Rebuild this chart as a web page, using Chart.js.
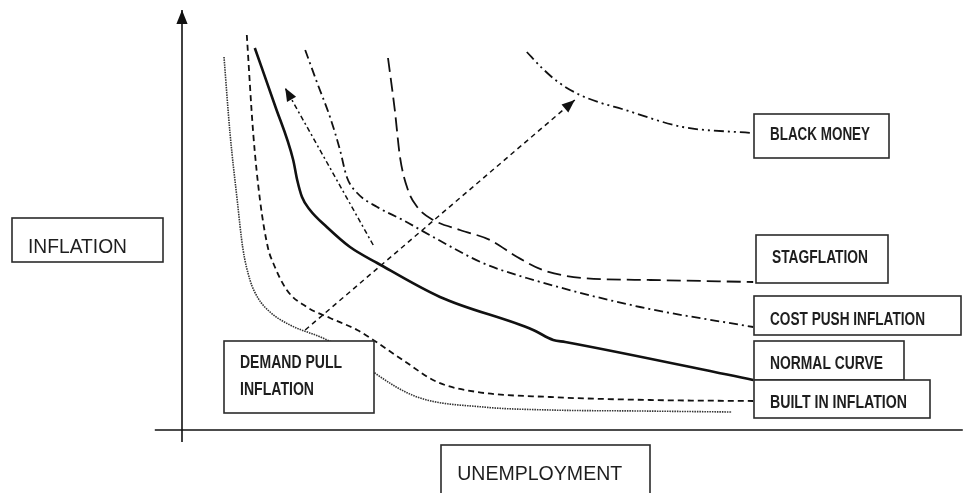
<!DOCTYPE html>
<html>
<head>
<meta charset="utf-8">
<script src="https://cdn.jsdelivr.net/npm/chart.js@4/dist/chart.umd.min.js"></script>
<style>
html, body { margin: 0; padding: 0; background: #fff; }
#chart { display: block; }
</style>
</head>
<body>
<canvas id="chart" width="966" height="493"></canvas>
<script>
// Curves: x = unemployment, y = inflation (arbitrary units, origin at the axes)
const demandPullCurve = [[5.25,93.75],[6,74.75],[6.9,58],[7.6,46],[8.5,38],[9.5,33.5],[11,30],[13.5,26.75],[17.6,23.5],[21,20],[24.1,14.75],[29.4,8.75],[37.6,6.25],[46,5.5],[57.25,5.25],[68.75,5]];
const builtInCurve = [[8.1,99.25],[8.9,74.75],[9.75,58],[10.75,46],[11.4,42.25],[13.1,35.5],[15.6,31.25],[18.5,28.5],[21.9,25.5],[23.9,23],[27.6,18],[31.9,12.5],[36.9,10],[46,8.75],[58.5,8],[71.4,7.75]];
const normalCurve = [[9.1,96],[11.6,81.75],[13.9,68],[14.4,63],[15,58.75],[16,55.5],[18.1,51.25],[21,46.25],[24.4,42.25],[32.25,33.75],[43.9,25.5],[46.4,23],[47.9,22.5],[71.4,13]];
const costPushCurve = [[15.4,95.5],[16.9,87.25],[18.5,78.75],[19.75,70.5],[20.6,63.75],[21.9,59.75],[24.4,56.25],[27.6,53],[31.4,48.75],[37.6,42.25],[43.1,38.5],[57.25,31.25],[71.4,26.25]];
const stagflationCurve = [[25.75,93.5],[26.6,80.5],[27.25,68.75],[28.25,60.5],[29.4,56.25],[31.4,53],[34.75,50.5],[38.5,48],[41.9,43.75],[45.1,40.5],[50.1,38.5],[58.5,38],[71.4,37.5]];
const blackMoneyCurve = [[43.1,95],[45,91],[47,87.5],[49.5,84.5],[52,82.5],[55,80.75],[62.6,76.25],[71.25,74.75]];

// shift arrows
const demandShiftArrow = [[15.4,25.5],[49.1,83]];
const costShiftArrow = [[23.9,46.75],[12.9,86]];

// axes
const yAxisLine = [[0,-2.5],[0,105.5]];
const xAxisLine = [[-3.4,0.5],[97.6,0.5]];

// label boxes: [left, top, right, bottom] in chart units, text lines with [x, baseline]
const boxes = [
    { rect: [-21.2,53.5,-2.4,42.5], lines: [['INFLATION',-19.25,44.75,99]], bold: false },
    { rect: [32.4,-3.25,58.5,-17], lines: [['UNEMPLOYMENT',34.4,-12,165]], bold: false },
    { rect: [71.5,79.5,88.4,68.5], lines: [['BLACK MONEY',73.5,73,100]], bold: true },
    { rect: [71.75,49.25,88.25,37.25], lines: [['STAGFLATION',73.75,42.25,96]], bold: true },
    { rect: [71.5,34,97.4,24.25], lines: [['COST PUSH INFLATION',73.5,26.75,155]], bold: true },
    { rect: [71.5,22.75,90.25,13], lines: [['NORMAL CURVE',73.5,15.75,113]], bold: true },
    { rect: [71.5,13,93.5,3.5], lines: [['BUILT IN INFLATION',73.5,6,137]], bold: true },
    { rect: [5.25,22.75,24,4.75], lines: [['DEMAND PULL',7.25,16,102],['INFLATION',7.25,9.25,74]], bold: true }
];

function pts(arr) {
    return arr.map(p => ({x: p[0], y: p[1]}));
}

function curve(data, dash, width, color) {
    return {
        data: pts(data),
        showLine: true,
        borderColor: color || '#111',
        borderWidth: width,
        borderDash: dash,
        pointRadius: 0,
        cubicInterpolationMode: 'monotone',
        fill: false,
        clip: false
    };
}

function straight(data, dash, width, arrow) {
    const ds = curve(data, dash, width, '#111');
    ds.cubicInterpolationMode = 'default';
    ds.tension = 0;
    ds.arrow = arrow;
    return ds;
}

const arrowPlugin = {
    id: 'arrows',
    afterDatasetsDraw(chart) {
        const ctx = chart.ctx;
        chart.data.datasets.forEach((ds, i) => {
            if (!ds.arrow) return;
            const els = chart.getDatasetMeta(i).data;
            const a = els[els.length - 2], b = els[els.length - 1];
            const ang = Math.atan2(b.y - a.y, b.x - a.x);
            const len = ds.arrow, half = ds.arrow * 0.4;
            ctx.save();
            ctx.translate(b.x, b.y);
            ctx.rotate(ang);
            ctx.fillStyle = '#111';
            ctx.beginPath();
            ctx.moveTo(0, 0);
            ctx.lineTo(-len, -half);
            ctx.lineTo(-len, half);
            ctx.closePath();
            ctx.fill();
            ctx.restore();
        });
    }
};

const boxPlugin = {
    id: 'boxes',
    afterDraw(chart) {
        const ctx = chart.ctx;
        const xs = chart.scales.x, ys = chart.scales.y;
        boxes.forEach(b => {
            const x1 = Math.round(xs.getPixelForValue(b.rect[0]));
            const y1 = Math.round(ys.getPixelForValue(b.rect[1]));
            const x2 = Math.round(xs.getPixelForValue(b.rect[2]));
            const y2 = Math.round(ys.getPixelForValue(b.rect[3]));
            ctx.save();
            ctx.fillStyle = '#fff';
            ctx.fillRect(x1, y1, x2 - x1, y2 - y1);
            ctx.strokeStyle = '#2b2b2b';
            ctx.lineWidth = 1.6;
            ctx.strokeRect(x1, y1, x2 - x1, y2 - y1);
            ctx.fillStyle = '#1e1e1e';
            ctx.textBaseline = 'alphabetic';
            ctx.font = b.bold
                ? 'bold 18px "Liberation Sans Narrow", "Liberation Sans", sans-serif'
                : '20px "Liberation Sans", sans-serif';
            b.lines.forEach(l => {
                ctx.fillText(l[0], xs.getPixelForValue(l[1]), ys.getPixelForValue(l[2]), l[3]);
            });
            ctx.restore();
        });
    }
};

new Chart(document.getElementById('chart').getContext('2d'), {
    type: 'scatter',
    data: {
        datasets: [
            straight(yAxisLine, [], 1.6, 14),
            straight(xAxisLine, [], 1.6, 0),
            curve(demandPullCurve, [1.5, 1], 1.6, '#333'),
            curve(builtInCurve, [6, 4], 1.8),
            curve(normalCurve, [], 2.6),
            curve(costPushCurve, [9, 4, 2, 4], 1.8),
            curve(stagflationCurve, [14, 6], 1.8),
            curve(blackMoneyCurve, [10, 4, 2, 4, 2, 4], 1.8),
            straight(demandShiftArrow, [5, 4], 1.5, 13),
            straight(costShiftArrow, [5, 3, 2, 3], 1.5, 13)
        ]
    },
    options: {
        responsive: false,
        animation: false,
        devicePixelRatio: 1,
        layout: { padding: 0 },
        plugins: {
            legend: { display: false },
            tooltip: { enabled: false }
        },
        scales: {
            x: { type: 'linear', min: -22.75, max: 98, display: false },
            y: { type: 'linear', min: -15.25, max: 108, display: false }
        }
    },
    plugins: [arrowPlugin, boxPlugin]
});
</script>
</body>
</html>
